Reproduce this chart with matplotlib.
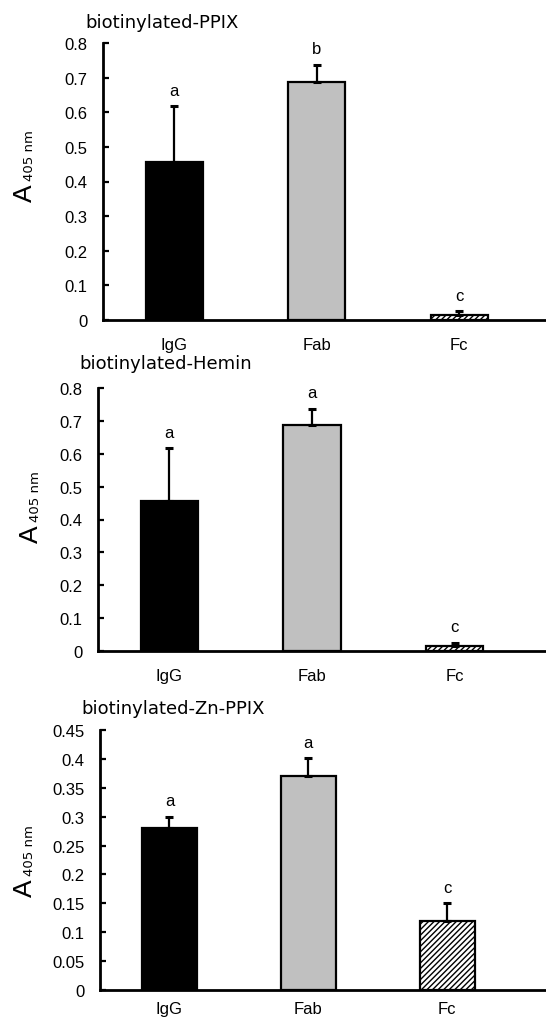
import matplotlib
matplotlib.use("Agg")
import matplotlib.pyplot as plt
import numpy as np

plt.rcParams['font.family'] = ['Liberation Sans', 'DejaVu Sans']
plt.rcParams['hatch.linewidth'] = 1.0

categories = ["IgG", "Fab", "Fc"]

titles = ["biotinylated-PPIX", "biotinylated-Hemin", "biotinylated-Zn-PPIX"]
values_ppix = [0.455, 0.687, 0.015]
errors_ppix = [0.162, 0.050, 0.010]
letters_ppix = ["a", "b", "c"]
values_hemin = [0.455, 0.687, 0.015]
errors_hemin = [0.162, 0.050, 0.010]
letters_hemin = ["a", "a", "c"]
values_znppix = [0.280, 0.371, 0.120]
errors_znppix = [0.020, 0.030, 0.030]
letters_znppix = ["a", "a", "c"]

yticks_08 = [0, 0.1, 0.2, 0.3, 0.4, 0.5, 0.6, 0.7, 0.8]
ytick_labels_08 = ["0", "0.1", "0.2", "0.3", "0.4", "0.5", "0.6", "0.7", "0.8"]
yticks_045 = [0, 0.05, 0.1, 0.15, 0.2, 0.25, 0.3, 0.35, 0.4, 0.45]
ytick_labels_045 = ["0", "0.05", "0.1", "0.15", "0.2", "0.25", "0.3", "0.35", "0.4", "0.45"]

W, H = 546, 1020
fig = plt.figure(figsize=(W / 100, H / 100), dpi=100)

# layout in pixels: axes left, top, bottom, xlim right, ymax, title x,y, ylabel A baseline x, start y, xtick pad
panels = [
    (103, 44, 321, 2.61, 0.8, yticks_08, ytick_labels_08, 85, 23, 32, 202, 12,
     values_ppix, errors_ppix, letters_ppix),
    (98, 389, 652, 2.64, 0.8, yticks_08, ytick_labels_08, 79, 364, 38, 543, 12,
     values_hemin, errors_hemin, letters_hemin),
    (100, 731, 991, 2.71, 0.45, yticks_045, ytick_labels_045, 81, 709, 32, 897, 8,
     values_znppix, errors_znppix, letters_znppix),
]

colors = ["black", "#c0c0c0", "white"]
hatches = [None, None, "//////"]

for (lp, tp, bp, xr, ymax, yt, ytl, tx, ty, ax_x, ax_y, xpad, vals, errs, lets), title in zip(panels, titles):
    ax = fig.add_axes([lp / W, 1 - bp / H, 1 - lp / W, (bp - tp) / H])
    x = np.arange(len(categories))
    for i in range(len(categories)):
        ax.bar(x[i], vals[i], width=0.4, color=colors[i], edgecolor="black",
               linewidth=1.6, hatch=hatches[i], zorder=2)
        ax.errorbar(x[i], vals[i], yerr=[[0], [errs[i]]], fmt="none",
                    ecolor="black", elinewidth=1.6, capsize=3, capthick=2.2, zorder=3)
        ax.annotate(lets[i], (x[i], vals[i] + errs[i]), xytext=(0, 6),
                    textcoords="offset points", ha="center", va="bottom", fontsize=12)
    ax.set_xlim(-0.5, xr)
    ax.set_ylim(0, ymax)
    ax.set_yticks(yt)
    ax.set_yticklabels(ytl, fontsize=12)
    ax.set_xticks(x)
    ax.set_xticklabels(categories, fontsize=12)
    ax.tick_params(axis="x", length=0, pad=xpad)
    ax.tick_params(axis="y", direction="in", length=4, width=1.6, pad=11)
    for s in ["top", "right"]:
        ax.spines[s].set_visible(False)
    for s in ["left", "bottom"]:
        ax.spines[s].set_linewidth(2)
    # y label: "A" with small subscript "405 nm"
    fig.text(ax_x / W, 1 - ax_y / H, "A", fontsize=19, rotation=90,
             rotation_mode="anchor", ha="left", va="baseline")
    fig.text((ax_x + 1) / W, 1 - (ax_y - 21) / H, "405 nm", fontsize=9.5,
             family=["DejaVu Sans"], rotation=90, rotation_mode="anchor",
             ha="left", va="baseline")
    fig.text(tx / W, 1 - ty / H, title, fontsize=13, family=["DejaVu Sans"],
             ha="left", va="center")

fig.savefig("out.png", dpi=100)
